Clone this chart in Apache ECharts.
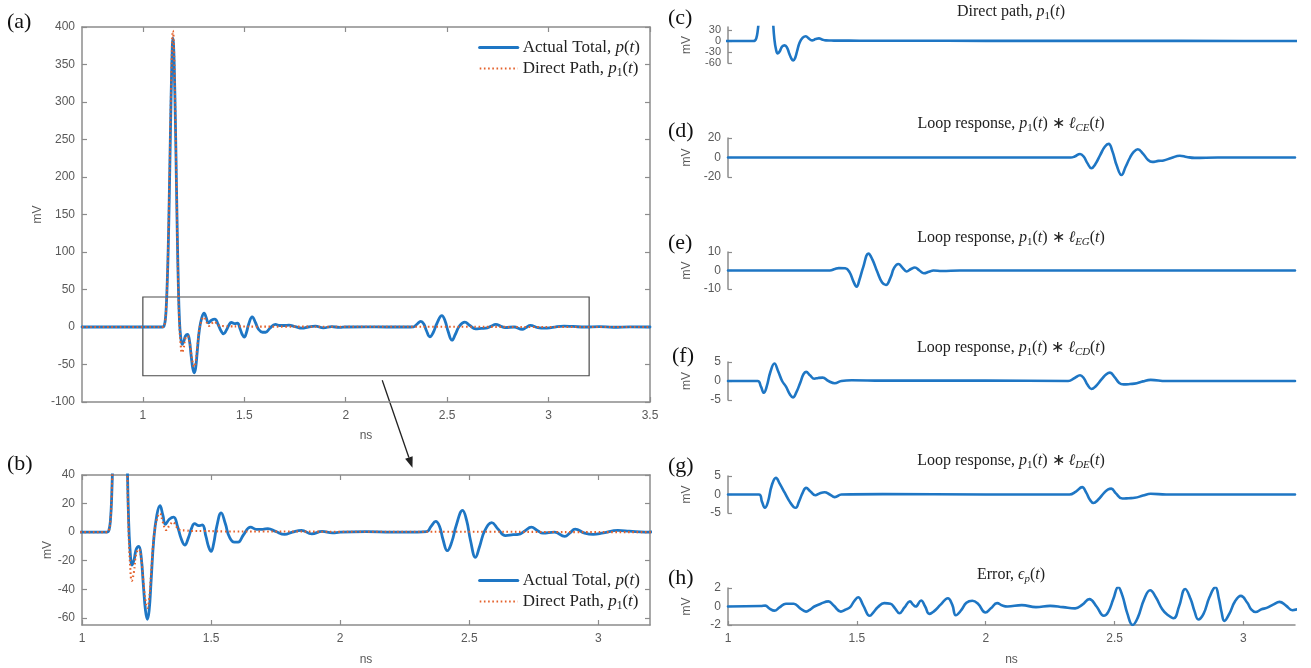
<!DOCTYPE html>
<html><head><meta charset="utf-8">
<script src="https://cdn.jsdelivr.net/npm/echarts@6/dist/echarts.min.js"></script>
<style>html,body{margin:0;padding:0;background:#fff}#c{width:1311px;height:668px}</style>
</head><body><div id="c"></div><script>
// ---------------- data (t in ns, value in mV) ----------------
const totalActual = [[0.70,0],[1.00,0],[1.098,0],[1.104,1],[1.110,8],[1.115,25],[1.120,58],[1.125,105],[1.130,170],[1.136,260],[1.141,330],[1.145,372],[1.148,385],[1.151,378],[1.155,345],[1.160,280],[1.165,200],[1.170,120],[1.175,55],[1.180,12],[1.186,-12],[1.194,-23],[1.202,-19],[1.210,-12],[1.220,-10],[1.229,-17],[1.238,-38],[1.246,-55],[1.253,-61],[1.260,-55],[1.268,-33],[1.278,-5],[1.290,12],[1.302,18.5],[1.313,12],[1.323,5.5],[1.338,9],[1.355,10.5],[1.370,4],[1.385,-5],[1.398,-9],[1.412,-4],[1.425,3],[1.436,6],[1.452,4.5],[1.466,5],[1.480,-3],[1.490,-10],[1.500,-13.5],[1.510,-8],[1.522,4],[1.539,13.5],[1.555,6],[1.570,-3],[1.590,-7],[1.605,-7],[1.625,-2],[1.653,3.5],[1.675,2],[1.700,2],[1.720,2.5],[1.750,0.5],[1.785,-1.6],[1.815,0],[1.850,1.2],[1.890,-1.2],[1.930,0.5],[1.970,-0.5],[2.000,0],[2.100,0.3],[2.200,0],[2.300,0],[2.335,0.3],[2.352,4],[2.370,7.5],[2.385,4],[2.398,-5],[2.415,-13],[2.432,-7],[2.450,5],[2.474,15.3],[2.490,8],[2.505,-6],[2.524,-17.6],[2.540,-10],[2.560,1],[2.587,6.6],[2.612,2],[2.640,-2.4],[2.670,-1.8],[2.690,-1.6],[2.715,0.8],[2.740,3.5],[2.765,1],[2.785,-0.7],[2.830,0],[2.870,-3],[2.890,-0.5],[2.910,2.1],[2.947,-0.7],[2.980,-1.6],[3.020,-0.5],[3.076,1.2],[3.120,0.7],[3.180,0],[3.250,0.5],[3.320,-0.3],[3.400,0.2],[3.500,0]];
const directPath = [[0.70,0],[1.098,0],[1.104,1],[1.110,8],[1.115,26],[1.120,60],[1.125,110],[1.130,178],[1.136,270],[1.141,342],[1.145,385],[1.148,395],[1.151,388],[1.155,353],[1.160,285],[1.165,200],[1.170,118],[1.175,50],[1.180,5],[1.186,-22],[1.193,-34],[1.201,-28],[1.210,-15],[1.220,-12],[1.229,-18],[1.238,-35],[1.246,-48],[1.253,-53],[1.260,-47],[1.268,-28],[1.278,-4],[1.290,9],[1.302,13],[1.313,7],[1.326,1.5],[1.340,5],[1.353,7],[1.365,4],[1.380,1.5],[1.400,1.2],[1.430,0.8],[1.470,0.8],[1.550,0.5],[1.700,0.5],[2.000,0.3],[2.500,0.3],[3.000,0],[3.500,0]];
const loopCE = [[1.0,0],[2.33,0],[2.345,1],[2.366,3.6],[2.38,1],[2.395,-6],[2.41,-11],[2.425,-7],[2.445,3],[2.462,11],[2.477,14],[2.492,6],[2.508,-8],[2.527,-18],[2.542,-10],[2.56,0],[2.575,6],[2.59,8.5],[2.61,4],[2.63,-2.5],[2.646,-4.5],[2.67,-3.5],[2.69,-3],[2.72,-0.5],[2.753,1.8],[2.78,0.5],[2.81,-0.4],[2.9,0],[3.2,0]];
const loopEG = [[1.0,0],[1.395,0],[1.415,0.8],[1.43,1.3],[1.455,1.2],[1.472,-1],[1.487,-6],[1.499,-8.7],[1.51,-5],[1.525,2],[1.545,9.1],[1.56,6],[1.58,-1],[1.598,-6.5],[1.613,-7.8],[1.63,-4],[1.645,1.5],[1.661,3.5],[1.677,1.5],[1.693,-0.5],[1.71,0.8],[1.725,1.6],[1.743,0],[1.76,-1.5],[1.78,-0.7],[1.797,0],[1.83,-0.3],[1.9,0],[3.2,0]];
const loopCD = [[1.0,0],[1.115,0],[1.128,-1.5],[1.139,-3.1],[1.15,-1.5],[1.165,2.5],[1.18,4.6],[1.195,2.5],[1.21,0],[1.225,-1.5],[1.24,-3.5],[1.252,-4.3],[1.265,-3],[1.28,-0.5],[1.293,1.8],[1.303,2.4],[1.318,1.5],[1.335,0.6],[1.35,0.8],[1.367,0.9],[1.39,0],[1.414,-0.6],[1.44,0],[1.48,0.2],[1.6,0.1],[2.0,0.1],[2.32,0],[2.345,0.8],[2.366,1.5],[2.38,0.8],[2.395,-1],[2.41,-2.1],[2.425,-1.5],[2.45,0.5],[2.468,1.8],[2.482,2.2],[2.5,1],[2.518,-0.5],[2.535,-0.9],[2.56,-0.8],[2.586,-0.6],[2.61,-0.1],[2.64,0.3],[2.7,0],[3.2,0]];
const loopDE = [[1.0,0],[1.12,0],[1.132,-2],[1.143,-3.6],[1.155,-2],[1.17,2.5],[1.186,4.5],[1.2,3],[1.22,0.5],[1.24,-2],[1.255,-3.4],[1.263,-3.6],[1.275,-2],[1.29,0.5],[1.303,1.8],[1.32,0.8],[1.339,-0.2],[1.355,0.3],[1.375,0.6],[1.395,0],[1.414,-0.7],[1.44,0],[1.6,0.1],[2.0,0],[2.325,0],[2.35,0.8],[2.374,2],[2.39,0.5],[2.405,-1.5],[2.418,-2.3],[2.435,-1.5],[2.46,0.5],[2.475,1.4],[2.487,1.6],[2.505,0.3],[2.53,-1.1],[2.555,-1],[2.578,-0.9],[2.61,-0.3],[2.64,0.2],[2.7,0],[3.2,0]];
const errorEp = [[1.0,0],[1.127,0.05],[1.145,0.1],[1.16,-0.2],[1.18,-0.45],[1.2,-0.1],[1.225,0.3],[1.255,0.3],[1.28,-0.2],[1.303,-0.55],[1.32,-0.3],[1.335,0],[1.36,0.3],[1.39,0.55],[1.41,0.1],[1.438,-0.55],[1.455,-0.35],[1.473,-0.1],[1.49,0.6],[1.505,1.0],[1.525,0.1],[1.55,-1.0],[1.565,-0.6],[1.582,-0.05],[1.606,0.36],[1.63,0.3],[1.648,-0.2],[1.665,-0.73],[1.685,-0.1],[1.706,0.55],[1.718,0.2],[1.728,0],[1.749,0.65],[1.765,0],[1.781,-0.8],[1.8,-0.5],[1.825,0.2],[1.853,0.9],[1.87,0.2],[1.884,-0.95],[1.905,-0.4],[1.925,0.4],[1.948,0.62],[1.97,0.3],[1.999,-0.65],[2.02,-0.2],[2.044,0.36],[2.065,0.1],[2.084,0],[2.14,0.15],[2.195,-0.07],[2.25,0.07],[2.3,-0.07],[2.347,-0.2],[2.375,0.2],[2.402,0.8],[2.43,0],[2.458,-1.0],[2.475,-0.6],[2.495,0.8],[2.514,2.1],[2.53,1.2],[2.55,-0.8],[2.57,-2.0],[2.59,-1.2],[2.615,0.8],[2.638,1.75],[2.66,1.0],[2.685,-0.3],[2.705,-0.9],[2.729,-1.27],[2.75,0],[2.774,1.9],[2.795,0.8],[2.81,-0.5],[2.825,-1.4],[2.845,-0.8],[2.868,1.0],[2.891,2.1],[2.905,0.8],[2.915,-0.6],[2.926,-1.55],[2.945,-0.8],[2.968,0.6],[2.99,1.15],[3.015,0.4],[3.03,-0.3],[3.047,-0.6],[3.07,-0.3],[3.09,-0.15],[3.115,0.2],[3.14,0.5],[3.165,0.1],[3.19,-0.4],[3.21,-0.3]];

// tick values
const ticksAx = [1, 1.5, 2, 2.5, 3, 3.5];
const ticksAy = [-100, -50, 0, 50, 100, 150, 200, 250, 300, 350, 400];
const ticksBx = [1, 1.5, 2, 2.5, 3];
const ticksBy = [-60, -40, -20, 0, 20, 40];
const ticksCy = [-60, -30, 0, 30];
const ticksDy = [-20, 0, 20];
const ticksEy = [-10, 0, 10];
const ticksFy = [-5, 0, 5];
const ticksGy = [-5, 0, 5];
const ticksHy = [-2, 0, 2];
const zoomBox = [[1, 40], [3.2, -65]];
const arrowFrom = [2.18, -71];   // in panel (a) coordinates
const arrowTo = [2.28, 45];      // in panel (b) coordinates

// ---------------- styles ----------------
const BLUE = '#1e76c4', ORANGE = '#e4602a', AXIS = '#8c8c8c', LBL = '#595959';
const SANS = '"Liberation Sans", Arial, sans-serif';
const SERIF = '"Liberation Serif", "Times New Roman", serif';

function mkAxis(gi, min, max, ticks, pos, labels, name, nameGap, tickLen, fs) {
  return {
    gridIndex: gi, type: 'value', min: min, max: max, position: pos,
    axisLine: {show: true, onZero: false, lineStyle: {color: AXIS, width: 1.5}},
    axisTick: {show: true, inside: true, length: tickLen || 5, customValues: ticks, lineStyle: {color: AXIS, width: 1.2}},
    axisLabel: {show: labels, customValues: ticks, margin: 7, color: LBL, fontSize: fs || 12, lineHeight: fs || 12,
      fontFamily: SANS, hideOverlap: false, showMinLabel: true, showMaxLabel: true},
    splitLine: {show: false},
    name: name || '', nameLocation: 'middle', nameGap: nameGap || 0,
    nameTextStyle: {color: LBL, fontSize: 12, fontFamily: SANS}
  };
}
function hiddenX(gi) { return {gridIndex: gi, type: 'value', min: 1, max: 3.2, show: false, splitLine: {show: false}}; }

const grids = [
  {left: 82, top: 27, width: 568, height: 375},
  {left: 82, top: 475, width: 568, height: 150},
  {left: 728, top: 27, width: 567, height: 36},
  {left: 728, top: 138, width: 567, height: 39},
  {left: 728, top: 252, width: 567, height: 37},
  {left: 728, top: 362, width: 567, height: 38},
  {left: 728, top: 476, width: 567, height: 37},
  {left: 728, top: 588, width: 567, height: 37}
];

const xAxes = [
  mkAxis(0, 0.7, 3.5, ticksAx, 'bottom', true, 'ns', 28),
  mkAxis(0, 0.7, 3.5, ticksAx, 'top', false),
  mkAxis(1, 1, 3.2, ticksBx, 'bottom', true, 'ns', 29),
  mkAxis(1, 1, 3.2, ticksBx, 'top', false),
  hiddenX(2), hiddenX(3), hiddenX(4), hiddenX(5), hiddenX(6),
  mkAxis(7, 1, 3.2, ticksBx, 'bottom', true, 'ns', 29, 4)
];
xAxes.forEach(a => { if (a.axisLabel) a.axisLabel.margin = 8; });
const yAxes = [
  mkAxis(0, -100, 400, ticksAy, 'left', true, 'mV', 38),
  mkAxis(0, -100, 400, ticksAy, 'right', false),
  mkAxis(1, -65, 40, ticksBy, 'left', true, 'mV', 28),
  mkAxis(1, -65, 40, ticksBy, 'right', false),
  mkAxis(2, -60, 38, ticksCy, 'left', true, 'mV', 35, 4, 11),
  mkAxis(3, -20, 20, ticksDy, 'left', true, 'mV', 35, 4),
  mkAxis(4, -10, 10, ticksEy, 'left', true, 'mV', 35, 4),
  mkAxis(5, -5, 5, ticksFy, 'left', true, 'mV', 35, 4),
  mkAxis(6, -5, 5, ticksGy, 'left', true, 'mV', 35, 4),
  mkAxis(7, -2, 2, ticksHy, 'left', true, 'mV', 35, 4)
];

function line(name, data, xi, yi, color, width, type, cap) {
  return {
    name: name, type: 'line', data: data, xAxisIndex: xi, yAxisIndex: yi,
    symbol: 'none', showSymbol: false, smooth: 0.45, clip: true,
    lineStyle: {color: color, width: width, type: type || 'solid', cap: cap || 'round', join: 'round'},
    itemStyle: {color: color}, silent: true, animation: false
  };
}

const DOTS = [1.6, 2.6];
const series = [
  line('Actual Total', totalActual, 0, 0, BLUE, 2.8),
  Object.assign(line('Direct Path', directPath, 0, 0, ORANGE, 2.1, DOTS, 'butt'), {
    markArea: {silent: true, itemStyle: {color: 'rgba(0,0,0,0)', borderColor: '#4a4a4a', borderWidth: 1.2},
      data: [[{coord: zoomBox[0]}, {coord: zoomBox[1]}]]}
  }),
  line('Actual Total', totalActual, 2, 2, BLUE, 2.8),
  line('Direct Path', directPath, 2, 2, ORANGE, 2.1, DOTS, 'butt'),
  line('c', directPath, 4, 4, BLUE, 2.6),
  line('d', loopCE, 5, 5, BLUE, 2.6),
  line('e', loopEG, 6, 6, BLUE, 2.6),
  line('f', loopCD, 7, 7, BLUE, 2.6),
  line('g', loopDE, 8, 8, BLUE, 2.6),
  line('h', errorEp, 9, 9, BLUE, 2.6)
];

const rich = (fs) => ({
  r: {fontFamily: SERIF, fontSize: fs, lineHeight: fs + 4, color: '#222'},
  i: {fontFamily: SERIF, fontSize: fs, lineHeight: fs + 4, fontStyle: 'italic', color: '#222'},
  s: {fontFamily: SERIF, fontSize: fs * 0.68, lineHeight: fs * 0.68, verticalAlign: 'bottom', color: '#222'},
  si: {fontFamily: SERIF, fontSize: fs * 0.68, lineHeight: fs * 0.68, verticalAlign: 'bottom', fontStyle: 'italic', color: '#222'}
});
const LEG = {
  'Actual Total': '{r|Actual Total, }{i|p}{r|(}{i|t}{r|)}',
  'Direct Path': '{r|Direct Path, }{i|p}{s|1}{r|(}{i|t}{r|)}'
};
function legendAt(top) {
  return {
    data: [
      {name: 'Actual Total', lineStyle: {width: 3.2}},
      {name: 'Direct Path', lineStyle: {width: 2.2}}
    ],
    orient: 'vertical', right: 671, top: top, padding: 0,
    itemWidth: 38, itemHeight: 14, itemGap: 4, align: 'left', selectedMode: false,
    itemStyle: {opacity: 0, borderWidth: 0},
    formatter: n => LEG[n],
    textStyle: {fontFamily: SERIF, fontSize: 17, color: '#222', rich: rich(17)}
  };
}

const panelTitles = [
  ['{r|Direct path, }{i|p}{s|1}{r|(}{i|t}{r|)}', 2],
  ['{r|Loop response, }{i|p}{s|1}{r|(}{i|t}{r|) ∗ }{i|ℓ}{si|CE}{r|(}{i|t}{r|)}', 114],
  ['{r|Loop response, }{i|p}{s|1}{r|(}{i|t}{r|) ∗ }{i|ℓ}{si|EG}{r|(}{i|t}{r|)}', 228],
  ['{r|Loop response, }{i|p}{s|1}{r|(}{i|t}{r|) ∗ }{i|ℓ}{si|CD}{r|(}{i|t}{r|)}', 338],
  ['{r|Loop response, }{i|p}{s|1}{r|(}{i|t}{r|) ∗ }{i|ℓ}{si|DE}{r|(}{i|t}{r|)}', 451],
  ['{r|Error, }{i|ϵ}{si|p}{r|(}{i|t}{r|)}', 565]
];
const panelLetters = [['(a)', 7, 10], ['(b)', 7, 452], ['(c)', 668, 6], ['(d)', 668, 119], ['(e)', 668, 231], ['(f)', 672, 344], ['(g)', 668, 454], ['(h)', 668, 566]];

const titles = [];
panelTitles.forEach(p => titles.push({
  text: p[0], left: 1011, top: p[1], textAlign: 'center', padding: 0,
  textStyle: {fontFamily: SERIF, fontSize: 16, fontWeight: 'normal', color: '#222', rich: rich(16)}
}));
panelLetters.forEach(p => titles.push({
  text: p[0], left: p[1], top: p[2], padding: 0,
  textStyle: {fontFamily: SERIF, fontSize: 22, lineHeight: 24, fontWeight: 'normal', color: '#111'}
}));

const chart = echarts.init(document.getElementById('c'), null, {renderer: 'canvas'});
chart.setOption({
  animation: false, backgroundColor: '#fff',
  grid: grids, xAxis: xAxes, yAxis: yAxes, series: series,
  legend: [legendAt(39), legendAt(572)],
  title: titles
});

// arrow from the zoom box in (a) down to panel (b)
const p0 = chart.convertToPixel({xAxisIndex: 0, yAxisIndex: 0}, arrowFrom);
const p1 = chart.convertToPixel({xAxisIndex: 2, yAxisIndex: 2}, arrowTo);
const dx = p1[0] - p0[0], dy = p1[1] - p0[1], L = Math.hypot(dx, dy);
const ux = dx / L, uy = dy / L, nx = -uy, ny = ux, HL = 11, HW = 4;
const bx = p1[0] - ux * HL, by = p1[1] - uy * HL;
chart.setOption({
  graphic: [
    {type: 'line', shape: {x1: p0[0], y1: p0[1], x2: bx, y2: by}, style: {stroke: '#222', lineWidth: 1.3}, silent: true},
    {type: 'polygon', shape: {points: [[p1[0], p1[1]], [bx + nx * HW, by + ny * HW], [bx - nx * HW, by - ny * HW]]}, style: {fill: '#222'}, silent: true}
  ]
});
</script></body></html>
